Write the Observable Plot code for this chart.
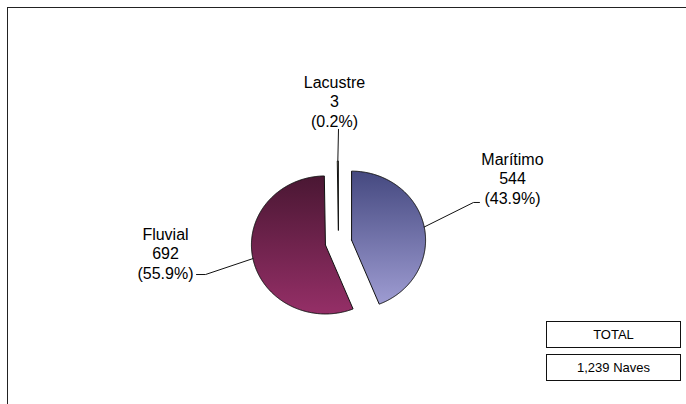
<!DOCTYPE html>
<html>
<head>
<meta charset="utf-8">
<script src="https://cdn.jsdelivr.net/npm/d3@7"></script>
<script src="https://cdn.jsdelivr.net/npm/@observablehq/plot@0.6"></script>
<style>
  html, body { margin: 0; padding: 0; background: #fff; overflow: hidden; }
  #chart { position: relative; width: 686px; height: 404px; font-family: "Liberation Sans", Arial, sans-serif; }
  #chart svg { position: absolute; left: 0; top: 0; }
  .frame { position: absolute; left: 7px; top: 7px; width: 720px; height: 440px; border: 1px solid #222; box-sizing: border-box; }
  .box { position: absolute; left: 546px; width: 135px; border: 1px solid #111; box-sizing: border-box; background: #fff;
         font-size: 13px; color: #000; text-align: center; }
</style>
</head>
<body>
<div id="chart">
  <div class="frame"></div>
</div>
<script>
// ---- data ----
const categories = ["Marítimo", "Fluvial", "Lacustre"];
const values = [544, 692, 3];
const totalTitle = "TOTAL";
const unitName = "Naves";

// ---- layout (unit-circle coordinates, y up) ----
const explode = 0.18;
const labelAnchors = [[2.351, 0.565], [-2.338, -0.522], [-0.054, 1.681]];
const leaderElbows = [[[1.824, 0.580], [1.905, 0.580]], [[-1.797, -0.464], [-1.919, -0.464]], [[0, 1.64]]];
const sliceFills = ["url(#gMar)", "url(#gFlu)", "#ffffcc"];

const total = d3.sum(values);
const pie = d3.pie().sort(null)(values);

const slicePts = [];
const leaderPts = [];
const labels = [];
pie.forEach((p, i) => {
  const mid = (p.startAngle + p.endAngle) / 2;
  const ox = explode * Math.sin(mid), oy = explode * Math.cos(mid);
  const pts = [{x: ox, y: oy}];
  const n = Math.max(2, Math.ceil((p.endAngle - p.startAngle) / 0.01));
  for (let k = 0; k <= n; ++k) {
    const a = p.startAngle + (p.endAngle - p.startAngle) * k / n;
    pts.push({x: ox + Math.sin(a), y: oy + Math.cos(a)});
  }
  pts.push({x: ox, y: oy});
  slicePts.push(pts);
  const lp = [{x: ox + Math.sin(mid), y: oy + Math.cos(mid), s: i}];
  leaderElbows[i].forEach(([x, y]) => lp.push({x, y, s: i}));
  leaderPts.push(...lp);
  labels.push({
    x: labelAnchors[i][0], y: labelAnchors[i][1],
    text: `${categories[i]}\n${d3.format(",")(values[i])}\n(${(values[i] / total * 100).toFixed(1)}%)`
  });
});

const font = "Liberation Sans, Arial, sans-serif";
const svg = Plot.plot({
  width: 686,
  height: 404,
  margin: 0,
  style: {background: "transparent", overflow: "visible"},
  x: {domain: [-1, 1], range: [264, 412], axis: null},
  y: {domain: [-1, 1], range: [311, 173], axis: null},
  marks: [
    ...slicePts.map((pts, i) => Plot.line(pts, {x: "x", y: "y", fill: sliceFills[i], stroke: "#111", strokeWidth: 1, strokeLinejoin: "miter"})),
    Plot.line(leaderPts, {x: "x", y: "y", z: "s", stroke: "#111", strokeWidth: 1}),
    Plot.text(labels, {x: "x", y: "y", text: "text", textAnchor: "middle", lineAnchor: "bottom", lineHeight: 1.19, fontSize: 16, fontFamily: font, fill: "#000"})
  ]
});

const defs = d3.select(svg).insert("defs", ":first-child");
function grad(id, c0, c1) {
  const g = defs.append("linearGradient").attr("id", id).attr("x1", 0).attr("y1", 0).attr("x2", 0).attr("y2", 1);
  g.append("stop").attr("offset", "0%").attr("stop-color", c0);
  g.append("stop").attr("offset", "100%").attr("stop-color", c1);
}
grad("gMar", "#454980", "#9e9cd2");
grad("gFlu", "#4a1733", "#952f67");

const chart = document.getElementById("chart");
chart.appendChild(svg);

const b1 = document.createElement("div");
b1.className = "box"; b1.style.top = "321px"; b1.style.height = "27px"; b1.style.lineHeight = "25px";
b1.textContent = totalTitle;
chart.appendChild(b1);
const b2 = document.createElement("div");
b2.className = "box"; b2.style.top = "354px"; b2.style.height = "27px"; b2.style.lineHeight = "25px";
b2.textContent = `${d3.format(",")(total)} ${unitName}`;
chart.appendChild(b2);
</script>
</body>
</html>
